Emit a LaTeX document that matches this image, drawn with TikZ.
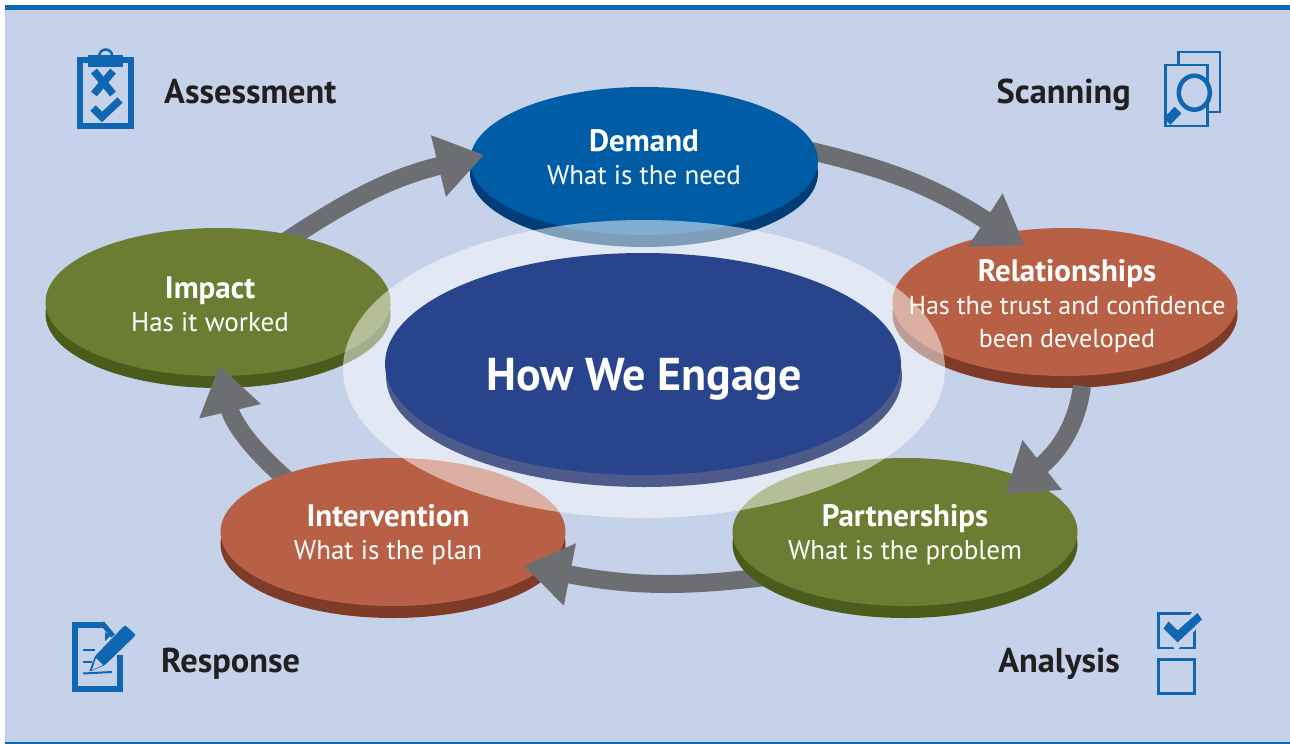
\documentclass[tikz,border=0pt]{standalone}
\usepackage{fontspec}
\setmainfont{PT Sans}
\usetikzlibrary{arrows.meta,shapes.geometric}

\definecolor{pagebg}{HTML}{C5D2E9}
\definecolor{iconblue}{HTML}{0F67B3}
\definecolor{flowgray}{HTML}{6D6E71}
\definecolor{labelblack}{HTML}{231F20}
\definecolor{demandface}{HTML}{015CA6}
\definecolor{demandside}{HTML}{003C75}
\definecolor{redface}{HTML}{B86045}
\definecolor{redside}{HTML}{7E3B27}
\definecolor{greenface}{HTML}{6C7D33}
\definecolor{greenside}{HTML}{4A5C1C}
\definecolor{coreface}{HTML}{28448C}
\definecolor{coreside}{HTML}{4E5B8A}

\newcommand{\disctitle}[1]{{\fontsize{31}{34}\selectfont\bfseries #1}}

\tikzset{
  disc/.style={ellipse,inner sep=0pt,minimum width=345pt,minimum height=148pt},
  disctext/.style={text=white,align=center,inner sep=0pt,font=\fontsize{27}{33}\selectfont},
  steplabel/.style={text=labelblack,inner sep=0pt,font=\fontsize{34.4}{36}\selectfont\bfseries},
  flow/.style={draw=flowgray,line width=18pt,-{Triangle[length=47pt,width=60pt]}},
  iconline/.style={draw=iconblue,line join=miter},
  iconfill/.style={fill=iconblue}
}

\begin{document}
\begin{tikzpicture}[x=1pt,y=-1pt]
\useasboundingbox (0,0) rectangle (1290,744);
\fill [white] (0,0) rectangle (1290,744);
\fill [pagebg] (5,5) rectangle (1290,744);
\fill [iconblue] (5,5) rectangle (1290,10);
\fill [iconblue] (5,742) rectangle (1290,744);

% places of the discs
\node [disc] (demand) at (644,161) {};
\node [disc] (relationships) at (1065,302) {};
\node [disc] (partnerships) at (905,532) {};
\node [disc] (intervention) at (393,532) {};
\node [disc] (impact) at (218,302) {};
\node [ellipse,inner sep=0pt,minimum width=516pt,minimum height=222pt] (core) at (643,364) {};

% discs and arrows, each head lies on the next disc
\fill [redside] (1065,314) ellipse (172.5pt and 74pt);
\fill [redface] (relationships) ellipse (172.5pt and 74pt);
\draw [flow,shorten <=-8pt,shorten >=-24pt] (demand.3) to [bend left=10] (relationships.131);

\fill [demandside] (644,173) ellipse (174pt and 74pt);
\fill [demandface] (demand) ellipse (174pt and 74pt);
\draw [flow,shorten <=-10pt,shorten >=-13pt] (impact.41) to [bend left=10] (demand.179);

\fill [greenside] (218,314) ellipse (172.5pt and 74pt);
\fill [greenface] (impact) ellipse (172.5pt and 74pt);
\draw [flow,shorten <=-10pt,shorten >=-11pt] (intervention.153) to [bend left=18] (impact.-87);

\fill [redside] (393,544) ellipse (172.5pt and 74pt);
\fill [redface] (intervention) ellipse (172.5pt and 74pt);
\draw [flow,shorten >=-19pt] (partnerships.198) to [bend left=9] (intervention.-14);

\fill [greenside] (905,544) ellipse (172.5pt and 74pt);
\fill [greenface] (partnerships) ellipse (172.5pt and 74pt);
\draw [flow,shorten <=10.5pt,shorten >=-25pt] (relationships.-76) to [bend left=22] (partnerships.24);

% halo and middle disc
\fill [white,fill opacity=.5] (644,369) ellipse (301pt and 149pt);
\fill [coreside] (644,376) ellipse (258pt and 111pt);
\fill [coreface] (core) ellipse (258pt and 111pt);

% texts
\node [disctext] (demandtext) at (demand) [yshift=4pt] {\disctitle{Demand}\\What is the need};
\node [disctext] (relationshipstext) at (relationships) [xshift=2pt,yshift=-4pt] {\disctitle{Relationships}\\{\fontsize{26}{33}\selectfont Has the trust and confidence}\\{\fontsize{26}{33}\selectfont been developed}};
\node [disctext] (partnershipstext) at (partnerships) [yshift=-3pt] {\disctitle{Partnerships}\\What is the problem};
\node [disctext] (interventiontext) at (intervention) [xshift=-5pt,yshift=-3pt] {\disctitle{Intervention}\\What is the plan};
\node [disctext] (impacttext) at (impact) [xshift=-8pt,yshift=-2pt] {\disctitle{Impact}\\Has it worked};
\node [text=white,inner sep=0pt,font=\fontsize{46}{50}\selectfont\bfseries] (coretext) at (644,379) {How We Engage};

\node [steplabel,anchor=west] (assessment) at (164,92) {Assessment};
\node [steplabel,anchor=east] (scanning) at (1131,95) {Scanning};
\node [steplabel,anchor=west] (response) at (161,664) {Response};
\node [steplabel,anchor=east] (analysis) at (1120,664) {Analysis};

% clipboard
\draw [iconline,line width=2.5pt] (105.7,56) circle (6.5pt);
\draw [iconline,line width=6.5pt] (80,60) rectangle (131,126);
\fill [iconfill] (88,55) rectangle (123,67);
\draw [iconline,line width=7.5pt] (94,71) -- (113,94);
\draw [iconline,line width=7.5pt] (113,71) -- (94,94);
\draw [iconline,line width=7.5pt] (93,108) -- (102,117) -- (120,100);

% sheets and lens
\draw [iconline,line width=2.5pt] (1178.5,52) rectangle (1220,112);
\draw [iconline,line width=2.5pt,fill=pagebg] (1165.5,65) rectangle (1207.5,126);
\draw [iconline,line width=4.5pt,fill=pagebg] (1194.3,92.7) ellipse (15.5pt and 17pt);
\draw [iconline,line width=9.5pt] (1178,110) -- (1167,121.5);

% sheet and pen
\draw [iconline,line width=6pt] (103,625) -- (74.5,625) -- (74.5,689) -- (120,689) -- (120,655);
\draw [iconline,line width=5pt] (102,623) -- (113,636);
\fill [iconfill] (105,632) -- (110,636) -- (105,641) -- cycle;
\fill [iconfill,rounded corners=2pt] (89,672) -- (95,656) -- (125,625) -- (136,635) -- (105,665) -- cycle;
\fill [pagebg] (96,658) -- (103,665) -- (92,670) -- cycle;
\draw [iconline,line width=2pt] (83,650) -- (95,650);
\draw [iconline,line width=2pt] (83,662) -- (92,662);
\draw [iconline,line width=2pt] (83,673.5) -- (112,672);

% tick boxes
\draw [iconline,line width=2.8pt] (1158.7,613.7) rectangle (1194.3,648);
\draw [iconline,line width=3pt] (1158.8,659.2) rectangle (1194.2,693.5);
\draw [draw=pagebg,line width=14pt,line cap=round] (1170,629) -- (1177,640) -- (1200,614);
\fill [iconfill] (1163.5,628.5) -- (1168.5,621.5) -- (1177.5,630.5) -- (1197.5,613) -- (1202,619.5) -- (1177.5,642.5) -- cycle;
\end{tikzpicture}
\end{document}
